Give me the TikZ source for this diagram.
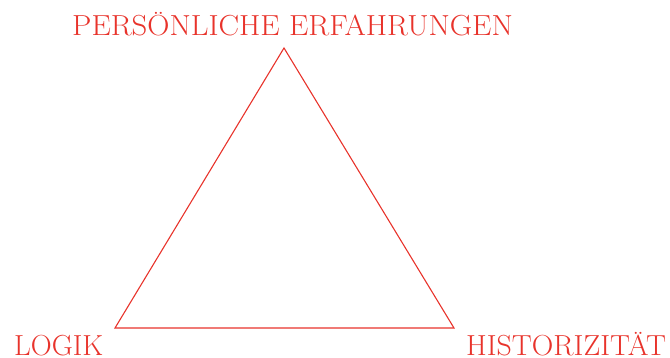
\documentclass[tikz,border=0pt]{standalone}
\definecolor{tri}{HTML}{E8332B}
\begin{document}
\begin{tikzpicture}[x=1pt,y=1pt,
  lbl/.style={anchor=base west,inner sep=0pt,text=tri,font=\fontsize{29}{29}\selectfont}]
\useasboundingbox (0,0) rectangle (670,358);
\coordinate (A) at (284,310);
\coordinate (B) at (115,30);
\coordinate (C) at (454,30);
\draw[tri,line width=1.1pt,line join=miter] (A) -- (B) -- (C) -- cycle;
\node[lbl] (top) at (72,322) {\scalebox{1.06}[1]{PERSÖNLICHE ERFAHRUNGEN}};
\node[lbl] (left) at (14,2) {LOGIK};
\node[lbl] (right) at (466,2) {\scalebox{1.03}[1]{HISTORIZITÄT}};
\end{tikzpicture}
\end{document}
